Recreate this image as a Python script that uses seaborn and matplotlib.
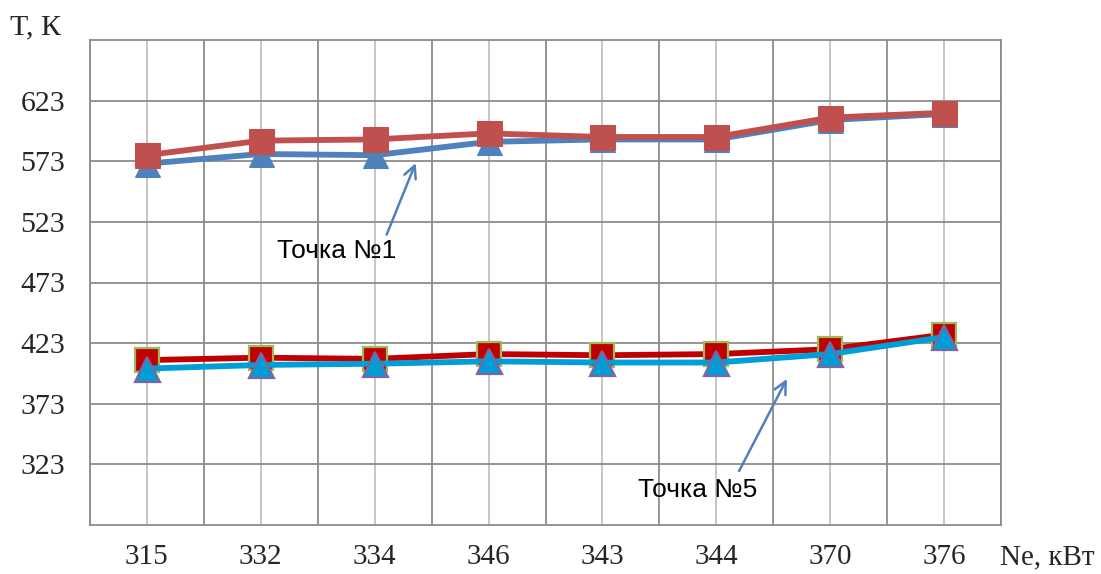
import matplotlib
matplotlib.use("Agg")
import matplotlib.pyplot as plt
import seaborn as sns
import pandas as pd
import numpy as np

# ---- data ----
power_labels = ["315", "332", "334", "346", "343", "344", "370", "376"]
t1_red = [578, 590, 591, 596, 593, 593, 609, 613]
t1_blue = [571, 579, 578, 589, 591, 591, 607, 612]
t5_red = [409, 411, 410, 414, 413, 414, 418, 430]
t5_blue = [402, 405, 406, 408, 407, 407, 414, 428]
y_ticks = [323, 373, 423, 473, 523, 573, 623]

sns.set_theme(style="white")
plt.rcParams["font.family"] = ["Liberation Serif", "DejaVu Serif"]

fig = plt.figure(figsize=(11.01, 5.74), dpi=100)
ax = fig.add_axes([90 / 1101, 1 - 525 / 574, 911 / 1101, 485 / 574])

df = pd.DataFrame({"Ne": power_labels})

# upper group (point 1)
sns.lineplot(x=df["Ne"], y=t1_blue, ax=ax, sort=False, color="#4F81BD", lw=4.2,
             marker="^", markersize=18, markeredgecolor="#4F81BD", markerfacecolor="#4F81BD",
             zorder=3)
sns.lineplot(x=df["Ne"], y=t1_red, ax=ax, sort=False, color="#C0504D", lw=4.2,
             marker="s", markersize=18, markeredgecolor="#C0504D", markerfacecolor="#C0504D",
             zorder=4)
# lower group (point 5)
sns.lineplot(x=df["Ne"], y=t5_red, ax=ax, sort=False, color="#C00000", lw=4.2,
             marker="s", markersize=17, markeredgecolor="#9BBB59", markeredgewidth=1.6,
             markerfacecolor="#C00000", zorder=3)
sns.lineplot(x=df["Ne"], y=t5_blue, ax=ax, sort=False, color="#009DD6", lw=4.2,
             marker="^", markersize=18, markeredgecolor="#8064A2", markeredgewidth=1.6,
             markerfacecolor="#009DD6", zorder=4)

ax.set_xlim(-0.5, len(power_labels) - 0.5)
ax.set_ylim(273, 673)

# grid
for k in range(len(power_labels) + 1):
    ax.axvline(k - 0.5, color="#8c8c8c", lw=1.3, zorder=1)
for k in range(len(power_labels)):
    ax.axvline(k, color="#c0c0c0", lw=1.3, zorder=1)
for v in y_ticks:
    ax.axhline(v, color="#8c8c8c", lw=1.3, zorder=1)

ax.set_yticks(y_ticks)
ax.set_yticklabels([str(v) for v in y_ticks], fontsize=21.5)
ax.set_xticks(range(len(power_labels)))
ax.set_xticklabels(power_labels, fontsize=21)
ax.tick_params(axis="y", length=0, pad=18)
ax.tick_params(axis="x", length=0, pad=14)
ax.set_xlabel("")
ax.set_ylabel("")
for s in ax.spines.values():
    s.set_color("#8c8c8c")
    s.set_linewidth(1.3)

fig.text(10 / 1101, 1 - 27 / 574, "T, К", fontsize=21.5, va="center", ha="left")
fig.text(1095 / 1101, 1 - 557 / 574, "Ne, кВт", fontsize=21, va="center", ha="right")

ann_font = ["Liberation Sans", "DejaVu Sans"]
arrow = dict(arrowstyle="->", color="#4F81BD", lw=1.8, shrinkA=0, shrinkB=0,
             mutation_scale=22)
ax.text(1.14, 499, "Точка №1", fontsize=19, family=ann_font, ha="left", va="center",
        color="black", zorder=6)
ax.annotate("", xy=(2.36, 571.5), xytext=(2.105, 512.5), arrowprops=arrow, zorder=6)
ax.text(4.31, 301.5, "Точка №5", fontsize=19, family=ann_font, ha="left", va="center",
        color="black", zorder=6)
ax.annotate("", xy=(5.62, 393.5), xytext=(5.20, 317.5), arrowprops=arrow, zorder=6)

fig.savefig("out.png", dpi=100)
